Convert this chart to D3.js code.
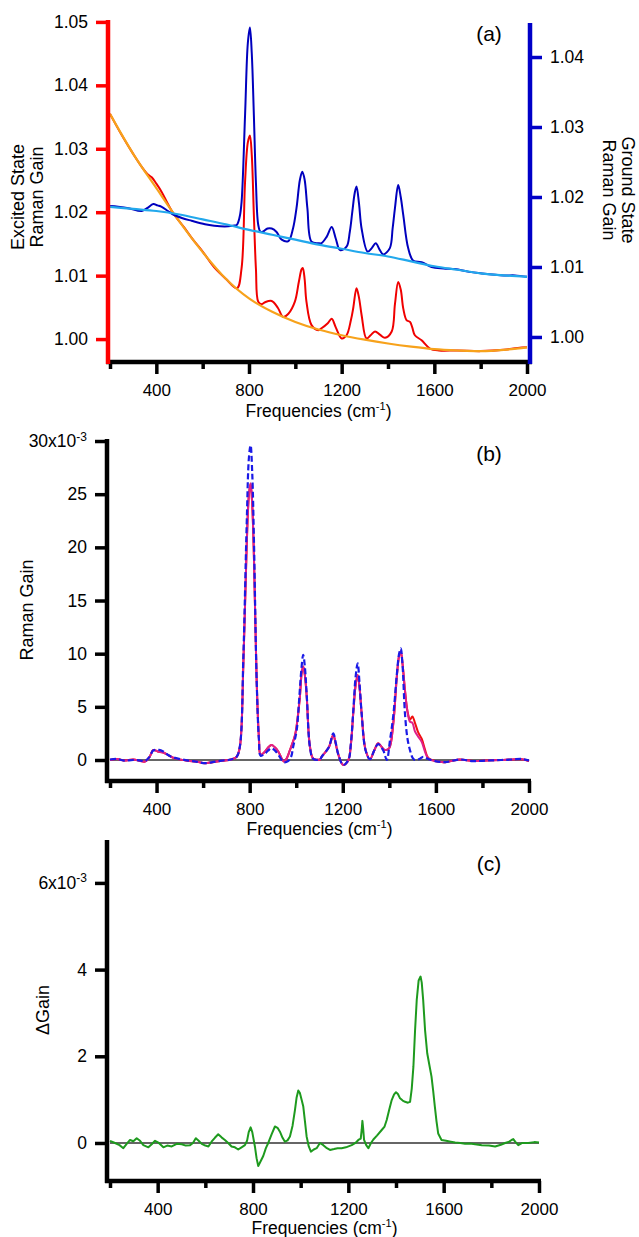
<!DOCTYPE html>
<html>
<head>
<meta charset="utf-8">
<script src="https://cdn.jsdelivr.net/npm/d3@7"></script>
<style>
  body { margin: 0; background: #fff; }
  svg { display: block; }
  text { font-family: "Liberation Sans", Arial, sans-serif; fill: #000; }
</style>
</head>
<body>
<div id="chart"></div>
<script>
// ---- tick values ----
const freqMajor = [400, 800, 1200, 1600, 2000];
const freqMinor = [200, 600, 1000, 1400, 1800];
const excitedTicks = [1.00, 1.01, 1.02, 1.03, 1.04, 1.05];
const groundTicks = [1.00, 1.01, 1.02, 1.03, 1.04];
const gainTicks = [0, 5, 10, 15, 20, 25, 30];   // x10^-3
const deltaTicks = [0, 2, 4, 6];                // x10^-3

// ---- panel (a): excited state raman gain (left axis) ----
const excitedSpec = [[200,1.0355],[250,1.0322],[300,1.0292],[340,1.0270],[365,1.0259],[380,1.0255],[400,1.0245],[423,1.0232],[450,1.0213],[472,1.0199],[520,1.0176],[560,1.0156],[600,1.0138],[650,1.0113],[700,1.0095],[748,1.0080],[768,1.0112],[783,1.0248],[795,1.0310],[804,1.0321],[812,1.0290],[821,1.0196],[830,1.0110],[840,1.0059],[855,1.0055],[869,1.0058],[898,1.0060],[925,1.0049],[947,1.0035],[970,1.0040],[998,1.0059],[1015,1.0090],[1027,1.0110],[1032,1.0112],[1040,1.0095],[1048,1.0059],[1070,1.0022],[1099,1.0014],[1113,1.0017],[1140,1.0025],[1157,1.0032],[1175,1.0018],[1200,1.0001],[1221,1.0006],[1240,1.0030],[1250,1.0049],[1264,1.0080],[1275,1.0065],[1286,1.0038],[1307,1.0001],[1325,1.0006],[1344,1.0012],[1365,1.0007],[1387,1.0002],[1416,1.0012],[1430,1.0055],[1444,1.0090],[1455,1.0078],[1466,1.0048],[1480,1.0030],[1495,1.0027],[1505,1.0018],[1516,1.0006],[1545,0.9998],[1581,0.9985],[1620,0.9982],[1700,0.9982],[1800,0.9981],[1900,0.9983],[1960,0.9986],[2000,0.9987]];
const excitedFit = [[200,1.0355],[300,1.0292],[400,1.0238],[500,1.0185],[600,1.0137],[700,1.0095],[800,1.0064],[900,1.0043],[1000,1.0027],[1100,1.0015],[1200,1.0006],[1300,0.9999],[1400,0.9993],[1500,0.9988],[1600,0.9984],[1700,0.9982],[1800,0.9981],[1900,0.9983],[2000,0.9987]];

// ---- panel (a): ground state raman gain (right axis) ----
const groundSpec = [[200,1.0187],[235,1.0186],[280,1.0184],[337,1.0180],[360,1.0184],[387,1.0190],[405,1.0188],[423,1.0186],[450,1.0180],[473,1.0175],[510,1.0170],[552,1.0166],[610,1.0161],[650,1.0159],[696,1.0158],[730,1.0159],[747,1.0160],[760,1.0172],[768,1.0193],[783,1.0317],[795,1.0420],[804,1.0442],[812,1.0405],[821,1.0317],[830,1.0220],[840,1.0160],[850,1.0150],[862,1.0151],[880,1.0155],[898,1.0155],[919,1.0150],[941,1.0139],[970,1.0137],[990,1.0155],[1005,1.0184],[1020,1.0225],[1030,1.0236],[1040,1.0225],[1052,1.0184],[1070,1.0136],[1099,1.0134],[1113,1.0134],[1135,1.0143],[1157,1.0157],[1175,1.0140],[1193,1.0124],[1221,1.0129],[1235,1.0150],[1246,1.0179],[1256,1.0205],[1264,1.0215],[1275,1.0190],[1286,1.0155],[1312,1.0122],[1330,1.0127],[1347,1.0134],[1365,1.0124],[1380,1.0118],[1408,1.0127],[1420,1.0155],[1430,1.0184],[1444,1.0217],[1455,1.0200],[1466,1.0174],[1487,1.0127],[1509,1.0109],[1545,1.0107],[1588,1.0100],[1640,1.0098],[1689,1.0097],[1750,1.0093],[1800,1.0091],[1900,1.0088],[1948,1.0088],[2000,1.0086]];
const groundFit = [[200,1.0186],[300,1.0183],[400,1.0180],[500,1.0175],[600,1.0168],[700,1.0161],[800,1.0153],[900,1.0146],[1000,1.0139],[1100,1.0132],[1200,1.0126],[1300,1.0120],[1400,1.0115],[1500,1.0108],[1600,1.0101],[1700,1.0096],[1800,1.0091],[1900,1.0088],[2000,1.0086]];

// ---- panel (b): raman gain, x10^-3 ----
const gainMagenta = [[200,0.0],[230,0.1],[260,-0.05],[300,0.05],[330,-0.1],[350,-0.15],[370,0.3],[386,0.94],[405,0.8],[429,0.7],[455,0.4],[479,0.15],[536,-0.07],[570,-0.15],[608,-0.3],[640,-0.2],[680,-0.07],[720,0.05],[744,0.3],[758,1.25],[773,9.1],[787,20],[797,25.0],[804,26.0],[811,24],[819,18.5],[830,7.5],[840,2.0],[847,0.5],[866,0.8],[880,1.2],[894,1.4],[908,1.2],[923,0.8],[947,-0.15],[960,0.2],[973,0.94],[995,2.35],[1008,4.3],[1016,6.0],[1024,8.3],[1030,8.8],[1037,8.0],[1045,6.0],[1059,1.25],[1073,0.15],[1102,0.05],[1109,0.3],[1140,1.2],[1159,2.35],[1170,1.5],[1181,0.5],[1202,-0.47],[1224,0],[1235,1.5],[1245,4.4],[1255,7.0],[1264,8.0],[1272,6.8],[1281,4.4],[1298,0.94],[1317,0.07],[1335,0.9],[1352,1.57],[1368,1.2],[1381,0.94],[1399,1.1],[1417,3.45],[1432,7.8],[1442,9.8],[1449,10.2],[1457,9.0],[1467,6.6],[1478,4.5],[1489,3.6],[1499,3.5],[1510,2.7],[1524,2.2],[1539,1.7],[1553,0.8],[1567,0.15],[1596,-0.1],[1640,-0.2],[1700,0.05],[1760,-0.1],[1820,-0.05],[1880,0.0],[1930,0.05],[1968,0.07],[2000,-0.1]];
const gainRed = [[200,0.0],[230,0.1],[260,-0.05],[300,0.05],[330,-0.1],[350,-0.15],[370,0.3],[386,0.94],[405,0.8],[429,0.7],[455,0.4],[479,0.15],[536,-0.07],[570,-0.15],[608,-0.3],[640,-0.2],[680,-0.07],[720,0.05],[744,0.3],[758,1.25],[773,9.1],[787,20],[797,25.0],[804,26.0],[811,24],[819,18.5],[830,7.5],[840,2.0],[847,0.5],[866,0.8],[880,1.2],[894,1.4],[908,1.2],[923,0.8],[947,-0.15],[960,0.2],[973,0.94],[995,2.35],[1008,4.3],[1016,6.0],[1024,8.3],[1030,8.8],[1037,8.0],[1045,6.0],[1059,1.25],[1073,0.15],[1102,0.05],[1109,0.3],[1140,1.2],[1159,2.35],[1170,1.5],[1181,0.5],[1202,-0.47],[1224,0],[1235,1.5],[1245,4.4],[1255,7.0],[1264,8.0],[1272,6.8],[1281,4.4],[1298,0.94],[1317,0.07],[1335,0.9],[1352,1.57],[1368,1.2],[1381,0.94],[1399,1.1],[1417,3.45],[1432,7.8],[1442,9.8],[1449,10.2],[1457,9.0],[1467,6.6],[1478,4.6],[1489,3.8],[1499,4.1],[1510,3.5],[1524,2.6],[1539,2.0],[1553,1.0],[1567,0.2],[1596,-0.1],[1640,-0.2],[1700,0.05],[1760,-0.1],[1820,-0.05],[1880,0.0],[1930,0.05],[1968,0.07],[2000,-0.1]];
const gainBlueDash = [[200,0.05],[230,0.1],[260,-0.05],[300,0.0],[330,-0.05],[350,-0.1],[370,0.3],[386,0.9],[410,0.95],[429,0.8],[455,0.4],[479,0.2],[536,-0.05],[570,-0.15],[608,-0.3],[640,-0.2],[680,-0.05],[720,0.05],[744,0.3],[758,1.3],[773,9.8],[787,22],[797,28.5],[804,29.6],[811,27],[819,20],[830,7.5],[840,1.8],[847,0.4],[866,0.6],[880,0.9],[894,1.1],[908,0.9],[923,0.5],[947,-0.2],[965,-0.1],[978,0.3],[987,1.25],[1002,2.8],[1012,5.5],[1022,8.5],[1030,9.9],[1037,8.8],[1045,6.2],[1059,1.2],[1073,0.1],[1102,0.05],[1109,0.3],[1140,1.2],[1159,2.5],[1170,1.6],[1181,0.5],[1202,-0.47],[1224,0],[1235,1.6],[1245,4.6],[1255,7.8],[1264,9.1],[1272,7.2],[1281,4.4],[1298,0.9],[1317,0.07],[1335,0.9],[1352,1.5],[1374,0.9],[1389,0.0],[1403,1.9],[1417,4.2],[1432,8.0],[1442,10.0],[1449,10.5],[1457,8.8],[1467,4.4],[1478,2.0],[1489,0.9],[1500,0.2],[1510,0.0],[1530,0.1],[1545,0.3],[1567,0.1],[1596,-0.1],[1640,-0.2],[1700,0.05],[1760,-0.1],[1820,-0.05],[1880,0.0],[1930,0.05],[1968,0.1],[2000,-0.05]];

// ---- panel (c): delta gain, x10^-3 ----
const deltaGain = [[200,0.05],[221,0],[240,-0.05],[256,-0.12],[270,-0.02],[284,0.07],[298,0.04],[312,0.11],[326,0.05],[340,-0.05],[361,-0.1],[375,-0.03],[389,0.05],[405,0.0],[424,-0.1],[440,-0.06],[459,-0.08],[480,-0.02],[501,-0.03],[518,-0.06],[536,-0.05],[548,0.0],[560,0.11],[572,0.05],[585,-0.02],[600,-0.06],[613,-0.08],[626,0.03],[640,0.12],[654,0.2],[668,0.13],[682,0.07],[696,0.0],[710,-0.08],[724,-0.1],[738,-0.15],[752,-0.1],[766,-0.05],[775,0.05],[782,0.25],[790,0.36],[797,0.25],[808,-0.08],[815,-0.35],[822,-0.53],[832,-0.42],[843,-0.3],[854,-0.12],[864,0.0],[878,0.2],[892,0.38],[903,0.35],[913,0.26],[924,0.12],[934,0.03],[945,0.06],[955,0.15],[966,0.4],[976,0.76],[983,1.05],[990,1.21],[997,1.15],[1004,1.0],[1011,0.84],[1018,0.5],[1025,0.15],[1034,-0.08],[1043,-0.2],[1055,-0.15],[1067,-0.12],[1081,0.0],[1095,-0.05],[1110,-0.12],[1123,-0.16],[1140,-0.14],[1155,-0.12],[1172,-0.12],[1190,-0.1],[1214,-0.05],[1230,0.0],[1242,0.07],[1252,0.1],[1256,0.3],[1259,0.51],[1262,0.35],[1266,0.07],[1275,-0.05],[1284,-0.12],[1295,0.0],[1305,0.08],[1320,0.17],[1340,0.3],[1352,0.38],[1361,0.53],[1372,0.78],[1382,0.99],[1392,1.12],[1400,1.17],[1408,1.13],[1417,1.03],[1428,0.98],[1438,0.95],[1450,0.93],[1459,0.95],[1466,1.25],[1473,1.76],[1480,2.6],[1487,3.3],[1495,3.75],[1503,3.84],[1508,3.7],[1514,3.3],[1522,2.6],[1531,2.07],[1540,1.8],[1549,1.53],[1556,1.2],[1563,0.84],[1570,0.5],[1577,0.22],[1591,0.07],[1610,0.05],[1630,0.03],[1648,0.01],[1670,0.0],[1690,-0.02],[1710,-0.01],[1732,-0.03],[1760,-0.05],[1790,-0.06],[1816,-0.08],[1840,-0.04],[1858,0.0],[1875,0.03],[1885,0.07],[1892,0.09],[1900,0.03],[1913,-0.05],[1930,0.0],[1955,0.0],[1980,0.02],[2000,0.01]];

const FONT = 17;

const svg = d3.select("#chart").append("svg")
    .attr("width", 639)
    .attr("height", 1237);

// Draw one spectrum as a path
function drawSpectrum(data, x, y, color, width, dash, curve) {
    const line = d3.line()
        .x(d => x(d[0]))
        .y(d => y(d[1]))
        .curve(curve || d3.curveCatmullRom.alpha(0.5));
    const p = svg.append("path")
        .attr("d", line(data))
        .attr("fill", "none")
        .attr("stroke", color)
        .attr("stroke-width", width)
        .attr("stroke-linejoin", "round");
    if (dash) p.attr("stroke-dasharray", dash);
}

// Frequency axis with long labelled ticks and short unlabelled ones
function drawFreqAxis(x, yPos, xStart, xEnd, titleY) {
    const g = svg.append("g").attr("transform", `translate(0,${yPos})`);
    g.append("g")
        .call(d3.axisBottom(x).tickValues(freqMajor).tickSize(12).tickPadding(10).tickFormat(d3.format("d")));
    g.append("g")
        .call(d3.axisBottom(x).tickValues(freqMinor).tickSize(7).tickFormat(""));
    g.selectAll(".domain").remove();
    g.selectAll(".tick line").attr("stroke", "#000").attr("stroke-width", 3.5);
    g.selectAll(".tick text").attr("font-size", FONT).attr("font-family", "Liberation Sans, Arial, sans-serif");
    g.append("line")
        .attr("x1", xStart).attr("x2", xEnd)
        .attr("y1", 0).attr("y2", 0)
        .attr("stroke", "#000").attr("stroke-width", 4.5);

    const t = svg.append("text")
        .attr("x", (x.range()[0] + x.range()[1]) / 2)
        .attr("y", titleY)
        .attr("text-anchor", "middle")
        .attr("font-size", 17.5);
    t.append("tspan").text("Frequencies (cm");
    t.append("tspan").attr("font-size", 11).attr("dy", -7).text("-1");
    t.append("tspan").attr("dy", 7).text(")");
}

// Value axis on the left or right
function drawValueAxis(axisFn, y, ticks, fmt, xPos, color, y0, y1) {
    const g = svg.append("g").attr("transform", `translate(${xPos},0)`);
    g.call(axisFn(y).tickValues(ticks).tickSize(12).tickPadding(8).tickFormat(fmt));
    g.selectAll(".domain").remove();
    g.selectAll(".tick line").attr("stroke", color).attr("stroke-width", 3.5);
    g.selectAll(".tick text").attr("font-size", 17.5).attr("font-family", "Liberation Sans, Arial, sans-serif");
    g.append("line")
        .attr("x1", 0).attr("x2", 0)
        .attr("y1", y0).attr("y2", y1)
        .attr("stroke", color).attr("stroke-width", 4.5);
    return g;
}

// Put "x10^-3" on the top labelled tick
function addExponent(g, value) {
    g.selectAll(".tick").filter(d => d === value).select("text")
        .text(null)
        .call(t => {
            t.append("tspan").text(value + "x10");
            t.append("tspan").attr("font-size", 12).attr("dy", "-0.55em").text("-3");
        });
}

function panelLabel(text, x, y) {
    svg.append("text")
        .attr("x", x).attr("y", y)
        .attr("text-anchor", "middle")
        .attr("font-size", 21)
        .text(text);
}

function rotatedLabel(lines, x, y, angle) {
    lines.forEach((s, i) => {
        svg.append("text")
            .attr("transform", `translate(${x[i]},${y}) rotate(${angle})`)
            .attr("text-anchor", "middle")
            .attr("dominant-baseline", "middle")
            .attr("font-size", 18)
            .text(s);
    });
}

// ================= panel (a) =================
const xA = d3.scaleLinear().domain([200, 2000]).range([110, 527]);
const yExc = d3.scaleLinear().domain([0.9967, 1.0503]).range([360, 20]);
const yGnd = d3.scaleLinear().domain([0.99671, 1.04486]).range([360, 23]);

drawSpectrum(excitedSpec, xA, yExc, "#f00000", 2);
drawSpectrum(excitedFit, xA, yExc, "#f7a21b", 2.2);
drawSpectrum(groundSpec, xA, yGnd, "#0000be", 2);
drawSpectrum(groundFit, xA, yGnd, "#22a8ec", 2.2);

drawFreqAxis(xA, 362, 106, 532, 417);
drawValueAxis(d3.axisLeft, yExc, excitedTicks, d3.format(".2f"), 108, "#ff0000", 20, 364);
drawValueAxis(d3.axisRight, yGnd, groundTicks, d3.format(".2f"), 530, "#0000c8", 23, 364);

rotatedLabel(["Excited State", "Raman Gain"], [19, 38], 197, -90);
rotatedLabel(["Ground State", "Raman Gain"], [627, 608], 190, 90);
panelLabel("(a)", 489, 41);

// ================= panel (b) =================
const xB = d3.scaleLinear().domain([200, 2000]).range([110, 529]);
const yB = d3.scaleLinear().domain([-1.88, 30.19]).range([780, 439]);

svg.append("line")
    .attr("x1", xB(200)).attr("x2", xB(2000))
    .attr("y1", yB(0)).attr("y2", yB(0))
    .attr("stroke", "#333").attr("stroke-width", 1.5);
drawSpectrum(gainRed, xB, yB, "#f01010", 2);
drawSpectrum(gainMagenta, xB, yB, "#e0208a", 2);
drawSpectrum(gainBlueDash, xB, yB, "#1a1ae6", 2.2, "6,3");

drawFreqAxis(xB, 781, 105, 531, 835);
const gB = drawValueAxis(d3.axisLeft, yB, gainTicks, d3.format("d"), 107, "#000", 439, 783);
addExponent(gB, 30);
rotatedLabel(["Raman Gain"], [28], 610, -90);
panelLabel("(b)", 489, 461);

// ================= panel (c) =================
const xC = d3.scaleLinear().domain([200, 2000]).range([110, 539]);
const yC = d3.scaleLinear().domain([-0.854, 6.99]).range([1180, 840]);

svg.append("line")
    .attr("x1", xC(200)).attr("x2", xC(2000))
    .attr("y1", yC(0)).attr("y2", yC(0))
    .attr("stroke", "#333").attr("stroke-width", 1.5);
drawSpectrum(deltaGain, xC, yC, "#1e9a1e", 2, null, d3.curveLinear);

drawFreqAxis(xC, 1181, 105, 541, 1234);
const gC = drawValueAxis(d3.axisLeft, yC, deltaTicks, d3.format("d"), 107, "#000", 840, 1183);
addExponent(gC, 6);
rotatedLabel(["\u0394Gain"], [44], 1010, -90);
panelLabel("(c)", 489, 871);
</script>
</body>
</html>
